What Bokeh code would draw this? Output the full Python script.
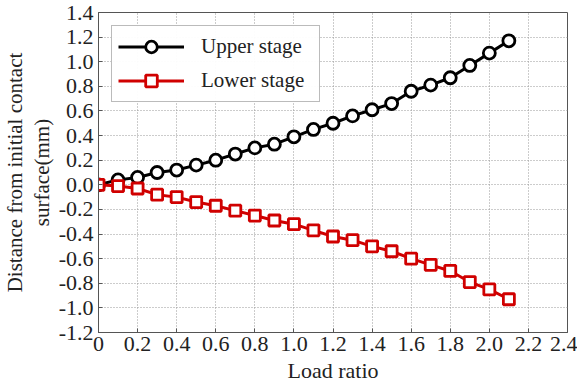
from bokeh.plotting import figure
from bokeh.models import FixedTicker, Legend, LegendItem, CustomJSTickFormatter
from bokeh.embed import file_html
from bokeh.resources import INLINE

load_ratio = [0.0, 0.1, 0.2, 0.3, 0.4, 0.5, 0.6, 0.7, 0.8, 0.9, 1.0,
              1.1, 1.2, 1.3, 1.4, 1.5, 1.6, 1.7, 1.8, 1.9, 2.0, 2.1]
upper_stage = [0.0, 0.04, 0.06, 0.10, 0.12, 0.16, 0.20, 0.25, 0.30, 0.33, 0.39,
               0.45, 0.50, 0.56, 0.61, 0.66, 0.76, 0.81, 0.87, 0.97, 1.07, 1.17]
lower_stage = [0.0, -0.01, -0.03, -0.08, -0.10, -0.14, -0.17, -0.21, -0.25, -0.29, -0.32,
               -0.37, -0.42, -0.45, -0.50, -0.54, -0.60, -0.65, -0.70, -0.79, -0.85, -0.93]
x_ticks = [0, 0.2, 0.4, 0.6, 0.8, 1.0, 1.2, 1.4, 1.6, 1.8, 2.0, 2.2, 2.4]
x_tick_labels = ["0", "0.2", "0.4", "0.6", "0.8", "1.0", "1.2", "1.4", "1.6", "1.8", "2.0", "2.2", "2.4"]
y_ticks = [-1.2, -1.0, -0.8, -0.6, -0.4, -0.2, 0.0, 0.2, 0.4, 0.6, 0.8, 1.0, 1.2, 1.4]
y_tick_labels = ["-1.2", "-1.0", "-0.8", "-0.6", "-0.4", "-0.2", "0.0", "0.2", "0.4", "0.6", "0.8", "1.0", "1.2", "1.4"]

FONT = "Liberation Serif"
RED = "#d00000"

p = figure(width=577, height=386, output_backend="svg", toolbar_location=None,
           x_range=(0, 2.4), y_range=(-1.2, 1.4),
           min_border_left=98, min_border_right=10, min_border_top=12, min_border_bottom=54)

p.outline_line_color = "#555555"
p.outline_line_width = 1

lookup_js = """
let best = 0;
for (let i = 0; i < tvals.length; i++) {
  if (Math.abs(tvals[i] - tick) < Math.abs(tvals[best] - tick)) { best = i; }
}
return tlabels[best];
"""
p.xaxis.ticker = FixedTicker(ticks=x_ticks)
p.xaxis.formatter = CustomJSTickFormatter(args=dict(tvals=x_ticks, tlabels=x_tick_labels), code=lookup_js)
p.yaxis.ticker = FixedTicker(ticks=y_ticks)
p.yaxis.formatter = CustomJSTickFormatter(args=dict(tvals=y_ticks, tlabels=y_tick_labels), code=lookup_js)

for ax in (p.xaxis, p.yaxis):
    ax.axis_line_color = "#555555"
    ax.major_tick_in = 4
    ax.major_tick_out = 0
    ax.minor_tick_line_color = None
    ax.major_tick_line_color = "#555555"
    ax.major_label_text_font = FONT
    ax.major_label_text_font_size = "22px"
    ax.major_label_text_color = "#222222"
    ax.axis_label_text_font = FONT
    ax.axis_label_text_font_size = "22px"
    ax.axis_label_text_font_style = "normal"
    ax.axis_label_text_color = "#222222"

p.yaxis.axis_label_text_font_size = "21px"
p.yaxis.axis_label_text_line_height = 1.1
p.xaxis.axis_label = "Load ratio"
p.yaxis.axis_label = "Distance from initial contact\nsurface(mm)"
p.xaxis.major_label_standoff = 4
p.xaxis.axis_label_standoff = 4
p.yaxis.major_label_standoff = 5
p.yaxis.axis_label_standoff = 2

p.xgrid.grid_line_color = "#999999"
p.ygrid.grid_line_color = "#999999"
p.xgrid.grid_line_dash = "1 2"
p.ygrid.grid_line_dash = "1 2"
p.xgrid.grid_line_width = 1
p.ygrid.grid_line_width = 1

l1 = p.line(load_ratio, upper_stage, line_color="black", line_width=3)
m1 = p.scatter(load_ratio, upper_stage, marker="circle", size=12, line_color="black",
               line_width=2.8, fill_color="white")
l2 = p.line(load_ratio, lower_stage, line_color=RED, line_width=3)
m2 = p.scatter(load_ratio, lower_stage, marker="square", size=11, line_color=RED,
               line_width=2.8, fill_color="white")

legend = Legend(items=[LegendItem(label="Upper stage", renderers=[l1, m1]),
                       LegendItem(label="Lower stage", renderers=[l2, m2])],
                location="top_left")
legend.label_text_font = FONT
legend.label_text_font_size = "21px"
legend.label_text_color = "#222222"
legend.glyph_width = 66
legend.glyph_height = 29
legend.label_height = 29
legend.label_width = 112
legend.label_standoff = 17
legend.spacing = 5
legend.padding = 6
legend.margin = 13
legend.border_line_color = "#777777"
legend.border_line_width = 1
p.add_layout(legend)

open("out.html", "w").write(file_html(p, INLINE))
